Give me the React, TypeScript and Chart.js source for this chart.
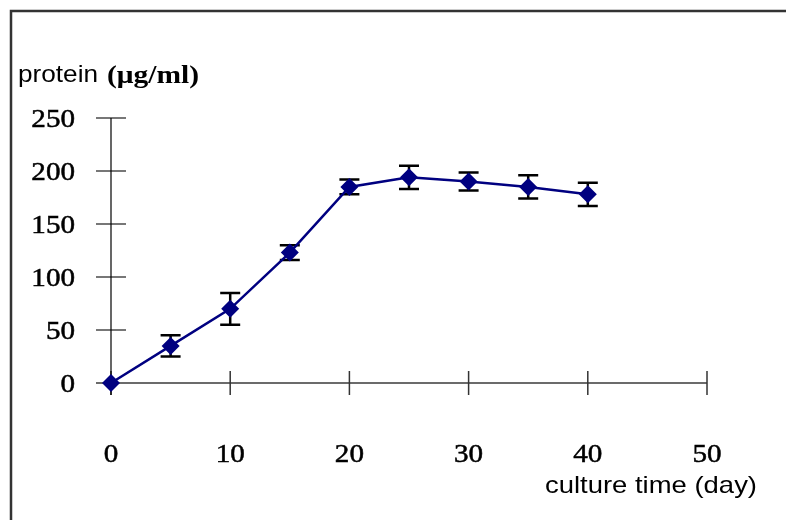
import React, { useEffect, useRef } from "react";
import { Chart, registerables } from "chart.js";

Chart.register(...registerables);

// Culture time in days and measured protein concentration (µg/ml) with ± error
const days = [0, 5, 10, 15, 20, 25, 30, 35, 40];
const protein = [0, 35, 70, 123, 185, 194, 190, 185, 178];
const proteinErr = [0, 10, 15, 7, 7, 11, 8.5, 11, 11];

const xTicks = [0, 10, 20, 30, 40, 50];
const yTicks = [0, 50, 100, 150, 200, 250];

const yTitleA = "protein";
const yTitleB = "(\u03bcg/ml)";
const xTitle = "culture time (day)";

const NAVY = "#000080";
const TICK_FONT = '26px "Liberation Serif", "Times New Roman", serif';
const TICK_STRETCH = 1.12;

// Draws text horizontally stretched by a factor, with an optional thin outline
function drawStretched(
  ctx: CanvasRenderingContext2D,
  text: string,
  x: number,
  y: number,
  font: string,
  sx: number,
  align: CanvasTextAlign,
  outline = 0
) {
  ctx.save();
  ctx.font = font;
  ctx.textAlign = align;
  ctx.textBaseline = "alphabetic";
  ctx.fillStyle = "#000";
  ctx.translate(x, y);
  ctx.scale(sx, 1);
  ctx.fillText(text, 0, 0);
  if (outline > 0) {
    ctx.strokeStyle = "#000";
    ctx.lineWidth = outline;
    ctx.strokeText(text, 0, 0);
  }
  ctx.restore();
}

// Draws text horizontally stretched so it spans a given width
function fitText(
  ctx: CanvasRenderingContext2D,
  text: string,
  x: number,
  y: number,
  font: string,
  width: number
) {
  ctx.save();
  ctx.font = font;
  const w = ctx.measureText(text).width;
  ctx.restore();
  drawStretched(ctx, text, x, y, font, width / w, "left");
}

const framePlugin = {
  id: "frame",
  beforeDraw(chart: any) {
    const ctx = chart.ctx as CanvasRenderingContext2D;
    ctx.save();
    ctx.fillStyle = "#fff";
    ctx.fillRect(0, 0, chart.width, chart.height);
    ctx.strokeStyle = "#333";
    ctx.lineWidth = 2.5;
    ctx.beginPath();
    ctx.moveTo(11, chart.height + 5);
    ctx.lineTo(11, 11);
    ctx.lineTo(chart.width + 5, 11);
    ctx.stroke();
    ctx.restore();
  },
};

// Axis lines with tick marks crossing them, tick labels, and the error bars
const crossAxesPlugin = {
  id: "crossAxes",
  beforeDatasetsDraw(chart: any) {
    const ctx = chart.ctx as CanvasRenderingContext2D;
    const xs = chart.scales.x;
    const ys = chart.scales.y;
    const x0 = xs.getPixelForValue(0);
    const y0 = ys.getPixelForValue(0);
    ctx.save();
    ctx.lineCap = "butt";

    // y ticks
    ctx.strokeStyle = "#777";
    ctx.lineWidth = 2;
    ys.ticks.forEach((t: any) => {
      const py = ys.getPixelForValue(t.value);
      ctx.beginPath();
      ctx.moveTo(x0 - 15, py);
      ctx.lineTo(x0 + 15, py);
      ctx.stroke();
    });

    // x axis line
    ctx.strokeStyle = "#6b6b6b";
    ctx.lineWidth = 2;
    ctx.beginPath();
    ctx.moveTo(x0 - 15, y0);
    ctx.lineTo(xs.getPixelForValue(xs.max), y0);
    ctx.stroke();

    // x ticks
    ctx.strokeStyle = "#333";
    ctx.lineWidth = 1.5;
    xs.ticks.forEach((t: any) => {
      const px = xs.getPixelForValue(t.value);
      ctx.beginPath();
      ctx.moveTo(px, y0 - 12);
      ctx.lineTo(px, y0 + 12);
      ctx.stroke();
    });

    // y axis line
    ctx.strokeStyle = "#000";
    ctx.lineWidth = 1.2;
    ctx.beginPath();
    ctx.moveTo(x0, ys.getPixelForValue(ys.max));
    ctx.lineTo(x0, y0 + 12);
    ctx.stroke();

    // tick labels
    ys.ticks.forEach((t: any) => {
      const py = ys.getPixelForValue(t.value);
      drawStretched(ctx, String(t.value), x0 - 36, py + 9, TICK_FONT, TICK_STRETCH, "right", 0.5);
    });
    xs.ticks.forEach((t: any) => {
      const px = xs.getPixelForValue(t.value);
      drawStretched(ctx, String(t.value), px, y0 + 79, TICK_FONT, TICK_STRETCH, "center", 0.5);
    });

    // error bars
    ctx.strokeStyle = "#000";
    ctx.lineWidth = 2.5;
    days.forEach((d, i) => {
      const e = proteinErr[i];
      if (!e) return;
      const px = xs.getPixelForValue(d);
      const top = ys.getPixelForValue(protein[i] + e);
      const bot = ys.getPixelForValue(protein[i] - e);
      ctx.beginPath();
      ctx.moveTo(px, top);
      ctx.lineTo(px, bot);
      ctx.moveTo(px - 10, top);
      ctx.lineTo(px + 10, top);
      ctx.moveTo(px - 10, bot);
      ctx.lineTo(px + 10, bot);
      ctx.stroke();
    });
    ctx.restore();
  },
};

const titlesPlugin = {
  id: "titles",
  afterDraw(chart: any) {
    const ctx = chart.ctx as CanvasRenderingContext2D;
    fitText(ctx, yTitleA, 18, 82, '24px "Liberation Sans", Arial, sans-serif', 80);
    fitText(ctx, yTitleB, 107, 83, 'bold 26px "Liberation Serif", serif', 92);
    fitText(ctx, xTitle, 545, 493, '24px "Liberation Sans", Arial, sans-serif', 212);
  },
};

export default function App() {
  const canvasRef = useRef<HTMLCanvasElement | null>(null);

  useEffect(() => {
    document.body.style.margin = "0";
    const canvas = canvasRef.current;
    if (!canvas) return;
    const chart = new Chart(canvas, {
      type: "scatter",
      data: {
        datasets: [
          {
            label: "protein",
            data: days.map((d, i) => ({ x: d, y: protein[i] })),
            showLine: true,
            clip: false,
            borderColor: NAVY,
            backgroundColor: NAVY,
            borderWidth: 2.5,
            pointStyle: "rectRot",
            pointRadius: 9,
            pointBorderWidth: 0,
            pointBackgroundColor: NAVY,
            tension: 0,
          },
        ],
      },
      options: {
        animation: false,
        responsive: false,
        maintainAspectRatio: false,
        layout: { padding: { left: 0, top: 118, right: 79, bottom: 0 } },
        plugins: {
          legend: { display: false },
          tooltip: { enabled: false },
          title: { display: false },
        },
        scales: {
          x: {
            type: "linear",
            min: 0,
            max: 50,
            afterBuildTicks: (s: any) => {
              s.ticks = xTicks.map((v) => ({ value: v }));
            },
            afterFit: (s: any) => {
              s.height = 137;
            },
            grid: { display: false, drawTicks: false },
            border: { display: false },
            ticks: { display: false },
          },
          y: {
            type: "linear",
            min: 0,
            max: 250,
            afterBuildTicks: (s: any) => {
              s.ticks = yTicks.map((v) => ({ value: v }));
            },
            afterFit: (s: any) => {
              s.width = 111;
            },
            grid: { display: false, drawTicks: false },
            border: { display: false },
            ticks: { display: false },
          },
        },
      },
      plugins: [framePlugin, crossAxesPlugin, titlesPlugin],
    });
    return () => chart.destroy();
  }, []);

  return (
    <div style={{ position: "fixed", left: 0, top: 0, width: 786, height: 520 }}>
      <canvas ref={canvasRef} width={786} height={520} />
    </div>
  );
}
